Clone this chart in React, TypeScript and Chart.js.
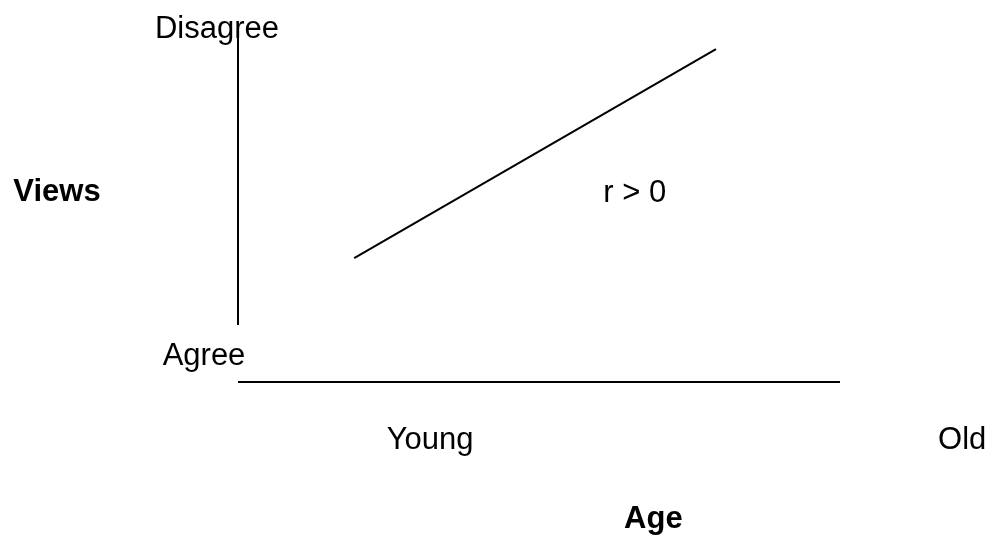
import React, { useEffect, useRef } from "react";
import { Chart, registerables } from "chart.js";

Chart.register(...registerables);

// Conceptual scale: Age (x) 0..10 = Young..Old, Views (y) 0..10 = Agree..Disagree
const trendX = [1.93, 7.94];
const trendY = [3.54, 9.51];
const yAxisLineX = [0, 0];
const yAxisLineY = [1.63, 10.06];
const xAxisLineX = [0, 10];
const xAxisLineY = [0, 0];

const yTickLabels = ["Agree", "Disagree"];
const xTickLabels = ["Young", "Old"];
const yTitle = "Views";
const xTitle = "Age";
const corrLabel = "r > 0";

const FONT = "'Liberation Sans', Arial, sans-serif";

const textPlugin = {
  id: "diagramText",
  afterDraw(chart: any) {
    const ctx = chart.ctx;
    const xs = chart.scales.x;
    const ys = chart.scales.y;
    const area = chart.chartArea;
    const put = (t: string, x: number, y: number, bold = false) => {
      ctx.save();
      ctx.fillStyle = "#000";
      ctx.font = `${bold ? "bold " : ""}31px ${FONT}`;
      ctx.textAlign = "center";
      ctx.textBaseline = "alphabetic";
      ctx.fillText(t, x, y);
      ctx.restore();
    };
    const x0 = xs.getPixelForValue(0);
    // y tick labels
    put(yTickLabels[1], x0 - 21, area.top + 6);
    put(yTickLabels[0], x0 - 34, ys.getPixelForValue(0) - 17);
    // y title
    put(yTitle, 57, (area.top + area.bottom) / 2 - 6, true);
    // correlation note
    put(corrLabel, xs.getPixelForValue(6.59), ys.getPixelForValue(5.2) + 2);
    // x tick labels
    const xb = ys.getPixelForValue(0);
    put(xTickLabels[0], xs.getPixelForValue(3.19), xb + 67);
    put(xTickLabels[1], xs.getPixelForValue(12.03), xb + 67);
    // x title
    put(xTitle, xs.getPixelForValue(6.9), xb + 146, true);
  },
};

export default function App() {
  const ref = useRef<HTMLCanvasElement | null>(null);
  useEffect(() => {
    document.body.style.margin = "0";
    const toPts = (xa: number[], ya: number[]) => xa.map((x, i) => ({ x, y: ya[i] }));
    const lineDs = (data: any) => ({
      data,
      showLine: true,
      borderColor: "#000",
      borderWidth: 2,
      pointRadius: 0,
      fill: false,
      clip: false,
    });
    const chart = new Chart(ref.current!, {
      type: "scatter",
      data: {
        datasets: [
          lineDs(toPts(trendX, trendY)),
          lineDs(toPts(yAxisLineX, yAxisLineY)),
          lineDs(toPts(xAxisLineX, xAxisLineY)),
        ],
      },
      options: {
        responsive: false,
        animation: false,
        layout: { padding: { left: 238, right: 150, top: 32, bottom: 154 } },
        plugins: { legend: { display: false }, tooltip: { enabled: false } },
        scales: {
          x: { type: "linear", min: 0, max: 10, display: false },
          y: { type: "linear", min: 0, max: 10, display: false },
        },
      },
      plugins: [textPlugin],
    });
    return () => chart.destroy();
  }, []);
  return (
    <div style={{ width: 990, height: 536, background: "#fff" }}>
      <canvas ref={ref} width={990} height={536} />
    </div>
  );
}
